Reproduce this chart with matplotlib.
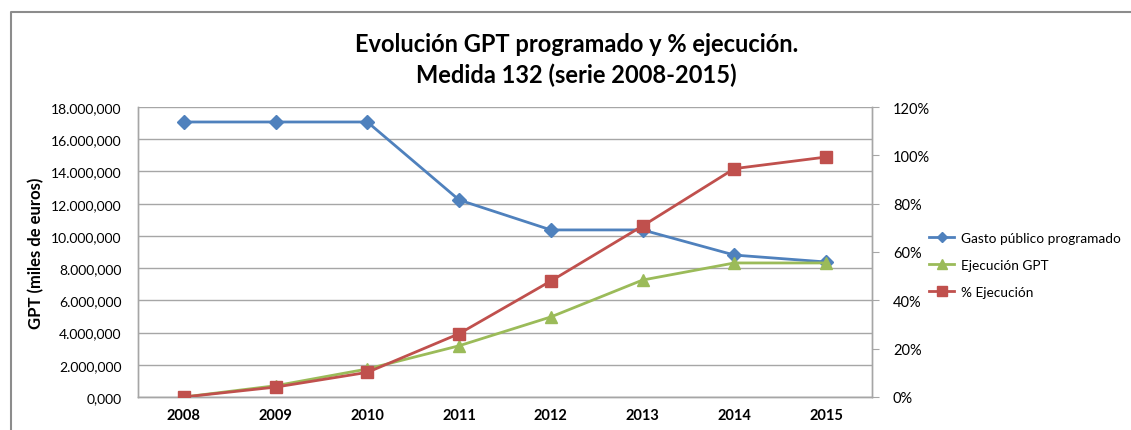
import matplotlib.pyplot as plt
from matplotlib.lines import Line2D
from matplotlib.ticker import FuncFormatter, MultipleLocator
import numpy as np

plt.rcParams['font.family'] = ['Lato', 'DejaVu Sans']

years = ['2008', '2009', '2010', '2011', '2012', '2013', '2014', '2015']
# Gasto publico programado y ejecutado (miles de euros)
gasto_programado = [17070, 17070, 17070, 12230, 10370, 10370, 8810, 8380]
ejecucion_gpt = [0, 700, 1740, 3180, 4970, 7260, 8320, 8320]
# Porcentaje de ejecucion
pct_ejecucion = [0.0, 4.1, 10.2, 26.2, 48.0, 70.8, 94.5, 99.3]

BLUE = '#4F81BD'
GREEN = '#9BBB59'
RED = '#C0504D'
GRID = '#A6A6A6'


def miles_fmt(v, pos):
    s = f'{v:,.3f}'
    return s.replace(',', '#').replace('.', ',').replace('#', '.')


fig = plt.figure(figsize=(11.31, 4.31), dpi=100)

# marco exterior del grafico
frame = Line2D([11 / 1131, 11 / 1131, 1.0], [0.0, 1 - 13 / 431, 1 - 13 / 431],
               transform=fig.transFigure, color='#8C8C8C', lw=1.5)
fig.add_artist(frame)

ax = fig.add_axes([138 / 1131, 1 - 398 / 431, (872 - 138) / 1131, 290 / 431])
ax2 = ax.twinx()

x = np.arange(len(years))

ax.plot(x, gasto_programado, color=BLUE, lw=2.0, marker='D', ms=7,
        label='Gasto público programado', zorder=3)
ax.plot(x, ejecucion_gpt, color=GREEN, lw=2.0, marker='^', ms=9,
        label='Ejecución GPT', zorder=3)
ax2.plot(x, pct_ejecucion, color=RED, lw=2.0, marker='s', ms=8.5,
         label='% Ejecución', zorder=3)

ax.set_xlim(-0.5, len(years) - 0.5)
ax.set_ylim(0, 18000)
ax.yaxis.set_major_locator(MultipleLocator(2000))
ax.yaxis.set_major_formatter(FuncFormatter(miles_fmt))
ax.grid(axis='y', color=GRID, lw=1.0)
ax.set_axisbelow(True)

ax2.set_ylim(0, 120)
ax2.yaxis.set_major_locator(MultipleLocator(20))
ax2.yaxis.set_major_formatter(FuncFormatter(lambda v, p: f'{v:.0f}%'))

ax.set_xticks(x)
ax.set_xticklabels(years, fontweight='bold', fontsize=10.5)
ax.tick_params(axis='x', length=0, pad=8)
ax.tick_params(axis='y', length=0, labelsize=10, pad=12)
ax2.tick_params(axis='y', length=5, color=GRID, labelsize=10.5, pad=10)

for a in (ax, ax2):
    a.spines['top'].set_visible(False)
    for s in ('left', 'right', 'bottom'):
        a.spines[s].set_color(GRID)
        a.spines[s].set_linewidth(1.0)

ax.set_ylabel('GPT (miles de euros)', fontweight='bold', fontsize=12)
ax.yaxis.set_label_coords(-0.128, 0.5)

fig.text(0.51, 1 - 45 / 431, 'Evolución GPT programado y % ejecución.',
         ha='center', va='center', fontsize=17, fontweight='bold')
fig.text(0.51, 1 - 75 / 431, 'Medida 132 (serie 2008-2015)',
         ha='center', va='center', fontsize=17, fontweight='bold')

h1, l1 = ax.get_legend_handles_labels()
h2, l2 = ax2.get_legend_handles_labels()
fig.legend(h1 + h2, l1 + l2, loc='center left', bbox_to_anchor=(924 / 1131, 1 - 266 / 431),
           frameon=False, fontsize=9.8, handlelength=1.8, handletextpad=0.5,
           labelspacing=1.1, markerscale=0.8, borderaxespad=0.0)

fig.savefig('out.png', dpi=100)
